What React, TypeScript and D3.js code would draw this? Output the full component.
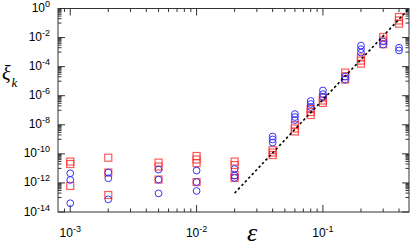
import * as d3 from 'd3';

// epsilon values of each column of points
const epsValues = [0.001, 0.002, 0.005, 0.01, 0.02, 0.04, 0.06, 0.08, 0.1, 0.15, 0.2, 0.3, 0.4];

// red squares, one list per epsilon
const squareValues = [
  [2.95e-11, 2.0e-11, 6.2e-13],
  [5.4e-11, 5.2e-12, 1.48e-13],
  [2.5e-11, 1.35e-11, 1.7e-12],
  [7.1e-11, 4.1e-11, 2.3e-11, 1.15e-12],
  [2.95e-11, 1.7e-11, 3.5e-12, 2.2e-12],
  [1.8e-10, 1.23e-10, 8.3e-11],
  [9.5e-9, 5.5e-9, 3.5e-9],
  [1.2e-7, 7.6e-8, 4.7e-8],
  [7.5e-7, 4.7e-7, 3.2e-7],
  [3.9e-5, 2.2e-5, 1.3e-5],
  [4.3e-4, 2.6e-4, 1.6e-4],
  [1.1e-2, 6.2e-3, 3.5e-3],
  [2.6e-1, 1.5e-1, 9.1e-2],
];

// blue circles, one list per epsilon
const circleValues = [
  [4.6e-12, 1.6e-12, 4e-14],
  [5.2e-12, 2.1e-12, 7.4e-14],
  [8.3e-12, 1.7e-12, 1.9e-13],
  [7.1e-12, 1.15e-12, 2.8e-13],
  [9.1e-12, 3.2e-12, 2.2e-12],
  [1.55e-9, 9.8e-10, 6e-10],
  [5.5e-8, 3.4e-8, 2.1e-8],
  [4.3e-7, 2.7e-7, 1.66e-7],
  [2.3e-6, 1.3e-6, 8.1e-7],
  [2.1e-5, 1.3e-5],
  [2.8e-3, 1.6e-3, 9.3e-4],
  [5.4e-3, 3.3e-3],
  [2e-3, 1.3e-3],
];

// dashed guide line end points
const fitEps = [0.02, 0.47];
const fitXi = [2e-13, 0.8];

const xTickExps = [-3, -2, -1];
const yTickExps = [0, -2, -4, -6, -8, -10, -12, -14];

const W = 415;
const H = 246;
const left = 58;
const right = 409;
const top = 8.5;
const bottom = 212;

const App = () => {
  const x = d3.scaleLog().domain([8e-4, 0.48]).range([left, right]);
  const y = d3.scaleLog().domain([1e-14, 1]).range([bottom, top]);

  const xMinor: number[] = [];
  for (let n = -4; n <= -1; n++) {
    for (let k = 2; k <= 9; k++) {
      const v = k * Math.pow(10, n);
      if (v > 8e-4 && v < 0.48) xMinor.push(v);
    }
  }
  const yMinor: number[] = [];
  for (let n = -14; n < 0; n += 2) {
    for (let k = 1; k <= 9; k++) yMinor.push(k * Math.pow(10, n + 1));
  }

  const axisColor = '#333';
  const line = d3
    .line<number>()
    .x((_, i) => x(fitEps[i]))
    .y((d) => y(d));

  const squares: [number, number][] = [];
  squareValues.forEach((vals, i) => vals.forEach((v) => squares.push([epsValues[i], v])));
  const circles: [number, number][] = [];
  circleValues.forEach((vals, i) => vals.forEach((v) => circles.push([epsValues[i], v])));

  return (
    <svg
      width={W}
      height={H}
      style={{ position: 'absolute', left: 0, top: 0, background: '#fff' }}
      fontFamily="'Liberation Sans', Arial, sans-serif"
    >
      <defs>
        <clipPath id="plot">
          <rect x={left} y={top} width={right - left} height={bottom - top} />
        </clipPath>
      </defs>

      {/* ticks, inward on all four sides */}
      <g stroke={axisColor} strokeWidth={1}>
        {xTickExps.map((e) => {
          const px = x(Math.pow(10, e));
          return (
            <g key={'xM' + e}>
              <line x1={px} x2={px} y1={bottom} y2={bottom - 7} />
              <line x1={px} x2={px} y1={top} y2={top + 7} />
            </g>
          );
        })}
        {xMinor.map((v, i) => {
          const px = x(v);
          return (
            <g key={'xm' + i}>
              <line x1={px} x2={px} y1={bottom} y2={bottom - 3.5} />
              <line x1={px} x2={px} y1={top} y2={top + 3.5} />
            </g>
          );
        })}
        {yTickExps.map((e) => {
          const py = y(Math.pow(10, e));
          return (
            <g key={'yM' + e}>
              <line x1={left} x2={left + 7} y1={py} y2={py} />
              <line x1={right} x2={right - 7} y1={py} y2={py} />
            </g>
          );
        })}
        {yMinor.map((v, i) => {
          const py = y(v);
          return (
            <g key={'ym' + i}>
              <line x1={left} x2={left + 3.5} y1={py} y2={py} />
              <line x1={right} x2={right - 3.5} y1={py} y2={py} />
            </g>
          );
        })}
      </g>

      <rect
        x={left}
        y={top}
        width={right - left}
        height={bottom - top}
        fill="none"
        stroke={axisColor}
        strokeWidth={1}
      />

      {/* tick labels */}
      <g fontSize={12} fill="#000">
        {xTickExps.map((e) => (
          <text key={'xl' + e} x={x(Math.pow(10, e))} y={237} textAnchor="middle">
            <tspan>10</tspan>
            <tspan dy={-5} fontSize={9}>
              {String(e)}
            </tspan>
          </text>
        ))}
        {yTickExps.map((e) => (
          <text key={'yl' + e} x={50} y={y(Math.pow(10, e)) + 3.5} textAnchor="end">
            <tspan>10</tspan>
            <tspan dy={-5} fontSize={9}>
              {String(e)}
            </tspan>
          </text>
        ))}
      </g>

      {/* axis titles */}
      <text x={2} y={80} fontFamily="'Liberation Serif', serif" fontStyle="italic" fontSize={20}>
        ξ
      </text>
      <text x={11.5} y={87} fontFamily="'Liberation Serif', serif" fontStyle="italic" fontSize={13}>
        k
      </text>
      <text
        x={252}
        y={240.5}
        textAnchor="middle"
        fontFamily="'Liberation Serif', serif"
        fontStyle="italic"
        fontSize={26}
      >
        ε
      </text>

      <g clipPath="url(#plot)">
        {squares.map(([e, v], i) => (
          <rect
            key={'s' + i}
            x={x(e) - 3.5}
            y={y(v) - 3.5}
            width={7}
            height={7}
            fill="none"
            stroke="#ff3030"
            strokeOpacity={0.8}
            strokeWidth={1.2}
          />
        ))}
        {circles.map(([e, v], i) => (
          <circle
            key={'c' + i}
            cx={x(e)}
            cy={y(v)}
            r={3.4}
            fill="none"
            stroke="#3333ff"
            strokeWidth={1}
          />
        ))}
        <path
          d={line(fitXi) || ''}
          fill="none"
          stroke="#000"
          strokeWidth={1.6}
          strokeDasharray="2.5,2.5"
        />
      </g>
    </svg>
  );
};

export default App;
